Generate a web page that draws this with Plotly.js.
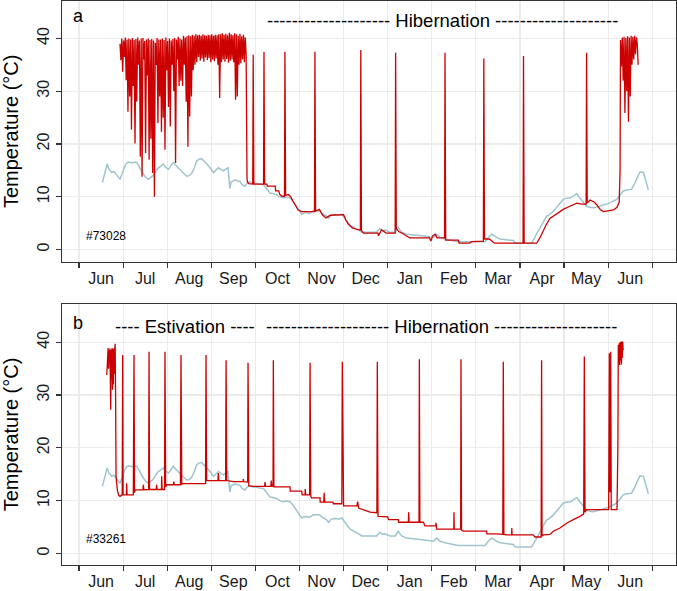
<!DOCTYPE html>
<html><head><meta charset="utf-8">
<script src="https://cdn.plot.ly/plotly-3.0.1.min.js"></script>
<style>html,body{margin:0;padding:0;background:#fff}#chart{width:677px;height:591px}</style>
</head><body><div id="chart"></div>
<script>
// x unit: months since 1 June (first tick = 0)
const monthLabels = ['Jun','Jul','Aug','Sep','Oct','Nov','Dec','Jan','Feb','Mar','Apr','May','Jun'];

// Ambient temperature (same logger in both panels)
const ambientX = [0.53,0.57,0.61,0.64,0.68,0.71,0.74,0.79,0.85,0.9,0.93,0.97,1.0,1.04,1.08,1.12,1.2,1.26,1.31,1.35,1.38,1.42,1.46,1.5,1.57,1.62,1.68,1.72,1.8,1.86,1.91,1.96,2.03,2.08,2.14,2.19,2.25,2.3,2.36,2.44,2.5,2.56,2.62,2.67,2.72,2.78,2.82,2.86,2.92,2.97,3.05,3.1,3.16,3.22,3.27,3.32,3.38,3.42,3.45,3.5,3.54,3.6,3.65,3.7,3.76,3.82,3.87,3.93,3.99,4.1,4.18,4.25,4.33,4.4,4.48,4.55,4.63,4.7,4.78,4.85,4.9,4.97,5.05,5.1,5.16,5.22,5.31,5.4,5.46,5.52,5.61,5.66,5.72,5.8,5.9,5.96,6.03,6.1,6.15,6.22,6.3,6.36,6.41,6.6,6.75,6.82,6.88,6.94,7.05,7.17,7.24,7.28,7.32,7.43,7.55,7.66,7.8,7.88,8.04,8.11,8.15,8.19,8.3,8.45,8.6,8.72,9.0,9.21,9.28,9.36,9.42,9.47,9.55,9.62,9.75,9.85,9.89,10.1,10.26,10.32,10.37,10.45,10.52,10.6,10.65,10.71,10.76,10.82,10.9,10.98,11.04,11.09,11.15,11.2,11.25,11.29,11.33,11.39,11.45,11.51,11.58,11.66,11.77,11.88,11.95,12.0,12.08,12.19,12.26,12.34,12.42,12.53,12.6,12.66,12.72,12.8,12.85,12.91];
const ambientT = [12.7,13.8,15.0,16.2,15.2,15.0,14.6,14.8,14.2,13.6,13.3,14.2,15.0,15.8,16.4,16.6,16.4,16.6,16.5,16.0,15.5,14.8,14.3,13.8,13.3,13.6,14.0,14.6,15.5,15.8,16.2,15.6,15.2,15.8,16.5,16.0,15.5,15.0,14.5,13.9,14.0,14.5,15.6,16.8,17.1,17.2,16.9,16.6,16.0,15.5,14.6,15.0,15.5,15.2,14.9,15.2,15.5,11.6,12.8,13.0,13.2,13.0,12.9,12.3,12.0,12.6,12.9,12.6,12.6,12.4,12.3,11.6,10.7,10.6,10.4,10.0,9.8,9.9,9.8,9.2,8.6,7.6,6.7,6.9,7.0,6.8,7.3,7.3,7.3,6.8,6.4,5.9,6.5,6.6,6.5,6.7,5.8,5.1,4.6,4.3,4.0,3.6,3.3,3.3,3.3,4.0,3.6,3.7,3.3,3.3,4.2,3.7,3.3,2.9,2.8,2.8,2.6,2.5,2.3,2.9,2.6,2.3,2.0,1.7,1.5,1.5,1.5,1.5,2.3,2.9,2.6,2.3,2.0,1.9,1.8,1.7,1.2,1.2,1.2,2.0,2.9,4.0,5.1,6.3,6.5,6.9,7.3,7.9,8.8,9.5,9.7,9.8,9.8,10.1,10.3,10.6,10.1,9.5,8.7,8.2,8.0,7.9,8.1,8.5,8.6,8.7,9.0,9.5,10.2,11.1,11.3,11.4,12.5,13.7,14.7,14.6,13.0,11.3];

// Panel a (#73028) body temperature
const bodyA_active1Start = 0.93, bodyA_active1Step = 0.02;
const bodyA_active1 = [39.0,35.9,40.0,33.7,39.6,36.5,40.2,32.1,39.8,26.1,40.0,29.0,39.8,22.7,40.1,31.0,39.7,20.1,39.9,28.0,40.2,35.0,39.6,17.6,40.0,13.8,40.1,36.0,39.5,18.3,39.8,33.0,40.0,17.0,39.7,21.0,39.9,14.5,39.6,10.0,39.2,35.0,40.1,24.0,39.8,29.0,39.8,22.3,40.0,25.0,39.7,18.9,40.2,34.0,39.5,27.0,40.0,23.3,39.6,35.0,39.9,30.0,40.1,16.4,39.8,36.0,40.3,31.0,40.0,32.0,39.8,31.0,40.5,35.0,40.2,28.0,40.4,19.5,40.6,25.2,40.4,29.0,40.7,34.0,40.5,35.0,40.8,35.5,40.6,36.5,40.7,35.8,40.5,36.2,40.8,35.6,40.6,36.4,40.5,35.9,40.7,36.3,40.6,35.5,40.8,36.0,40.5,35.7,40.7,36.2,40.6,35.0,40.8,28.7,40.8,35.5,41.0,36.0,40.7,35.6,40.9,36.1,40.6,35.4,41.1,35.8,40.8,36.0,40.6,35.5,41.0,28.4,40.8,29.0,40.5,35.0,40.9,35.3,40.4,36.0,40.7,35.5,40.2,37.0,13.5];
const bodyA_hibX = [3.82,3.85,3.94,3.95,3.965,4.1,4.185,4.195,4.21,4.26,4.27,4.45,4.46,4.53,4.55,4.6,4.66,4.67,4.685,4.75,4.8,4.85,4.9,4.97,5.05,5.25,5.34,5.35,5.365,5.45,5.52,5.6,5.7,6.0,6.05,6.11,6.2,6.3,6.38,6.39,6.405,6.45,6.78,6.79,6.82,6.86,6.92,6.97,7.17,7.18,7.195,7.25,7.35,7.43,7.5,7.95,7.98,8.02,8.08,8.12,8.29,8.3,8.315,8.6,8.62,8.85,8.9,9.17,9.18,9.195,9.3,9.35,9.42,10.07,10.08,10.095,10.38,10.45,10.53,10.6,10.68,10.75,10.83,10.98,11.13,11.29,11.4,11.5,11.51,11.525,11.59,11.68,11.74,11.82,11.89,12.12,12.2,12.25,12.27];
const bodyA_hibT = [12.8,12.5,12.4,36.9,12.4,12.4,12.4,37.5,12.4,12.4,12.0,12.0,11.1,11.1,10.5,10.1,10.1,37.5,10.3,10.4,10.0,9.2,8.4,7.5,7.2,7.2,7.2,37.5,7.3,7.6,6.6,6.0,6.5,6.6,5.6,4.8,4.1,3.8,3.7,37.8,3.6,3.1,3.1,2.6,3.2,3.7,3.4,3.1,3.1,37.3,4.0,3.4,3.0,2.6,2.2,2.2,1.6,2.6,2.9,2.2,2.2,37.3,1.8,1.8,1.2,1.2,1.5,1.6,36.2,2.0,2.0,1.7,1.2,1.2,36.7,1.2,1.2,2.2,3.7,4.8,5.9,6.3,6.9,7.6,8.2,8.8,8.6,8.6,37.3,8.8,9.4,9.0,8.5,7.6,7.2,7.5,8.0,9.0,15.0];
const bodyA_active2Start = 12.28, bodyA_active2Step = 0.02;
const bodyA_active2 = [39.7,34.7,40.2,32.0,40.3,25.9,40.1,30.0,40.4,24.2,40.2,29.0,40.5,35.0,40.3,36.0,40.5,37.0,40.2,39.0,35.0];

// Panel b (#33261) body temperature
const bodyB_active1Start = 0.63, bodyB_active1Step = 0.01;
const bodyB_active1 = [33.8,37.5,36.0,38.9,35.0,38.5,36.5,38.8,29.0,27.2,38.6,33.0,38.9,31.0,38.7,32.0,38.8,34.0,38.5,39.7,30.0];
const bodyB_hibX = [0.84,0.87,0.9,0.93,0.96,0.98,0.991,1.0,1.043,1.075,1.08,1.09,1.232,1.247,1.26,1.27,1.45,1.46,1.47,1.58,1.588,1.6,1.75,1.76,1.77,1.87,1.875,1.885,1.94,1.95,1.965,1.988,2.14,2.15,2.16,2.3,2.313,2.33,2.365,2.87,2.88,2.895,3.15,3.16,3.17,3.325,3.335,3.35,3.5,3.72,3.727,3.735,3.825,3.833,3.85,3.954,4.21,4.218,4.23,4.35,4.36,4.37,4.4,4.407,4.42,4.483,4.785,4.79,5.05,5.06,5.126,5.13,5.14,5.23,5.24,5.255,5.277,5.465,5.47,5.55,5.56,5.57,5.76,5.77,5.96,5.971,5.985,6.0,6.3,6.32,6.34,6.41,6.6,6.755,6.765,6.78,7.0,7.02,7.24,7.25,7.47,7.476,7.485,7.71,7.718,7.73,7.81,7.846,8.09,8.095,8.105,8.11,8.5,8.503,8.51,8.655,8.662,8.675,8.715,9.24,9.25,9.47,9.61,9.622,9.635,9.7,9.81,9.815,9.82,10.3,10.34,10.48,10.49,10.5,10.53,10.68,10.756,10.907,11.058,11.209,11.36,11.445,11.459,11.475,11.51,12.01,12.026,12.04,12.05,12.058,12.07,12.2,12.22];
const bodyB_hibT = [14.5,12.0,11.0,10.8,11.0,11.1,37.6,11.1,11.1,11.1,13.3,11.1,11.1,37.6,11.5,12.05,12.05,13.0,12.05,12.1,38.2,12.1,12.1,13.0,12.1,12.1,14.6,12.1,12.1,38.2,12.6,13.0,13.0,13.6,13.0,13.0,37.6,13.1,13.2,13.2,37.6,13.8,13.8,15.2,13.8,13.8,36.6,13.8,13.6,13.6,14.1,13.6,13.5,36.1,12.8,12.7,12.7,13.5,12.7,12.7,13.8,12.7,12.7,36.6,12.6,12.6,12.6,11.8,11.8,11.1,11.1,12.2,11.1,11.1,36.1,10.8,10.5,10.5,9.7,9.7,11.5,9.7,9.7,9.4,9.4,36.3,9.2,9.0,9.0,9.8,8.6,8.4,7.8,7.7,36.3,7.0,6.9,6.4,6.4,5.9,5.9,7.8,5.9,5.9,36.8,5.9,5.9,5.2,5.2,5.8,5.2,4.6,4.6,7.8,4.6,4.6,36.8,4.4,4.2,4.2,3.7,3.7,3.6,36.3,3.6,3.5,3.5,4.8,3.5,3.5,3.1,3.1,36.6,3.3,3.5,3.6,4.2,4.8,5.7,6.4,7.0,7.5,37.3,7.8,8.3,8.3,37.9,11.7,11.7,38.2,8.3,8.3,20.0];
const bodyB_active2Start = 12.23, bodyB_active2Step = 0.01;
const bodyB_active2 = [39.5,36.0,39.8,35.7,40.0,36.5,40.1,35.8,40.2,37.0,40.1,38.5];

function sampled(start, step, vals){ return vals.map((v,i)=>+(start+i*step).toFixed(4)); }
function bodySeries(s1,st1,v1,hx,ht,s2,st2,v2){
  return {x: sampled(s1,st1,v1).concat(hx, sampled(s2,st2,v2)), y: v1.concat(ht, v2)};
}
const bodyA = bodySeries(bodyA_active1Start,bodyA_active1Step,bodyA_active1,bodyA_hibX,bodyA_hibT,bodyA_active2Start,bodyA_active2Step,bodyA_active2);
const bodyB = bodySeries(bodyB_active1Start,bodyB_active1Step,bodyB_active1,bodyB_hibX,bodyB_hibT,bodyB_active2Start,bodyB_active2Step,bodyB_active2);

const F = 'Liberation Sans, Arial, Helvetica, sans-serif';
const RED = '#cc0000', BLUE = '#9ec4d0';
const traces = [
  {x: ambientX, y: ambientT, xaxis:'x', yaxis:'y', mode:'lines', line:{color:BLUE, width:1.5}, hoverinfo:'skip'},
  {x: bodyA.x, y: bodyA.y, xaxis:'x', yaxis:'y', mode:'lines', line:{color:RED, width:1.3}, hoverinfo:'skip'},
  {x: ambientX, y: ambientT, xaxis:'x2', yaxis:'y2', mode:'lines', line:{color:BLUE, width:1.5}, hoverinfo:'skip'},
  {x: bodyB.x, y: bodyB.y, xaxis:'x2', yaxis:'y2', mode:'lines', line:{color:RED, width:1.3}, hoverinfo:'skip'}
];

const monthCentres = monthLabels.map((m,i)=>i+0.5);
function xAxis(anchor){
  return {
    anchor, range:[-0.3855, 13.538], tickmode:'array', tickvals: monthCentres, ticktext: monthLabels,
    ticks:'outside', ticklen:2, tickcolor:'rgba(0,0,0,0)', showgrid:false, zeroline:false,
    showline:true, mirror:true, linecolor:'#333333', linewidth:1.2,
    tickfont:{family:F, size:16, color:'#1a1a1a'},
    minor:{tickmode:'linear', tick0:0, dtick:1, ticks:'outside', ticklen:5, tickcolor:'#333333', tickwidth:1.2,
           showgrid:true, gridcolor:'#ebebeb', gridwidth:1.2}
  };
}
function yAxis(anchor, domain, range){
  return {
    anchor, domain, range, tickmode:'array', tickvals:[0,10,20,30,40], tickangle:-90,
    ticks:'outside', ticklen:5, tickcolor:'#333333', tickwidth:1.2,
    showgrid:true, gridcolor:'#ebebeb', gridwidth:1.2, zeroline:false,
    showline:true, mirror:true, linecolor:'#333333', linewidth:1.2,
    tickfont:{family:F, size:16, color:'#1a1a1a'},
    title:{text:'Temperature (°C)', font:{family:F, size:20, color:'#000'}, standoff:11}
  };
}
const hyph = n => '-'.repeat(n);
const ann = (xref,yref,x,y,text,size,extra) => Object.assign({xref,yref,x,y,text,showarrow:false,
  font:{family:F,size,color:'#000'}}, extra||{});
const layout = {
  width:677, height:591, margin:{l:62, r:1, t:1, b:26},
  paper_bgcolor:'#fff', plot_bgcolor:'#fff', showlegend:false,
  xaxis: xAxis('y'), yaxis: yAxis('x', [0.5378, 1], [-2.3, 47.1]),
  xaxis2: xAxis('y2'), yaxis2: yAxis('x2', [0, 0.4628], [-2.2, 47.25]),
  annotations:[
    ann('x','y',-0.02,44.3,'a',18),
    ann('x','y',0.11,2.6,'#73028',12,{xanchor:'left'}),
    ann('x','y',8.25,43.5,hyph(20)+' Hibernation '+hyph(20),18.5),
    ann('x2','y2',-0.02,43.6,'b',18),
    ann('x2','y2',0.11,2.7,'#33261',12,{xanchor:'left'}),
    ann('x2','y2',2.4,43.0,hyph(4)+' Estivation '+hyph(4),18.5),
    ann('x2','y2',8.21,43.0,hyph(20)+' Hibernation '+hyph(20),18.5)
  ]
};
Plotly.newPlot('chart', traces, layout, {staticPlot:true, displayModeBar:false});
</script>
</body></html>
